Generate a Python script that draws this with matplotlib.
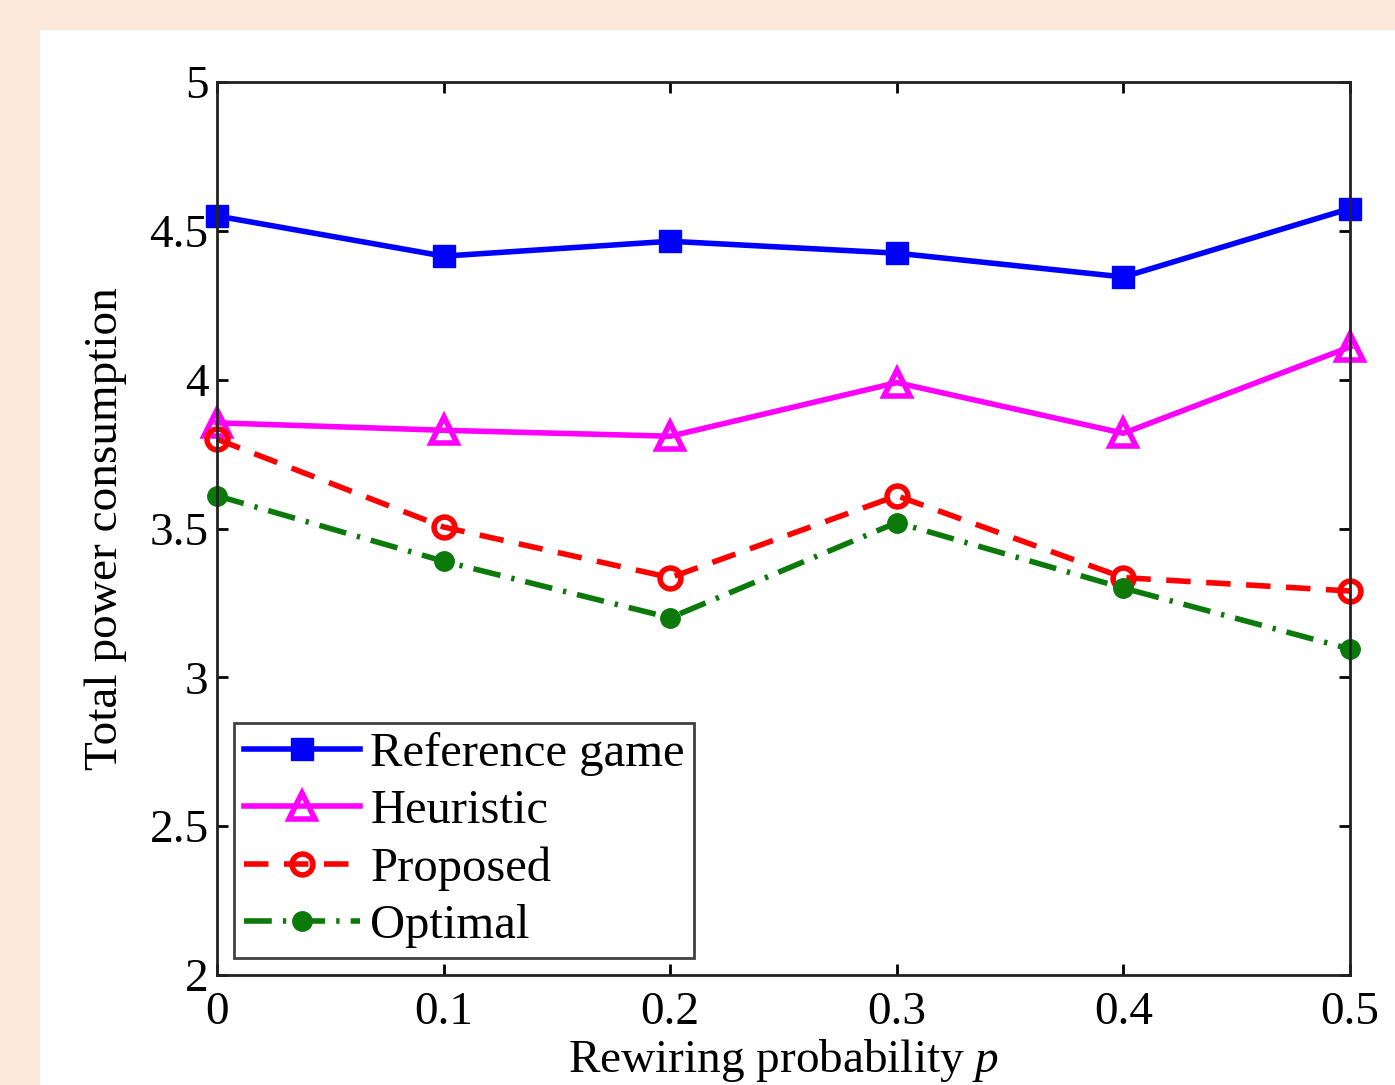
import matplotlib.pyplot as plt
from matplotlib.patches import Rectangle

# data
p = [0, 0.1, 0.2, 0.3, 0.4, 0.5]
reference_game = [4.55, 4.415, 4.465, 4.425, 4.345, 4.575]
heuristic = [3.855, 3.83, 3.81, 3.99, 3.82, 4.11]
proposed = [3.80, 3.505, 3.335, 3.61, 3.335, 3.29]
optimal = [3.61, 3.39, 3.20, 3.52, 3.30, 3.095]

plt.rcParams['font.family'] = ['Liberation Serif', 'DejaVu Serif']
plt.rcParams['mathtext.fontset'] = 'custom'
plt.rcParams['mathtext.it'] = 'Liberation Serif:italic'

fs = 34

fig = plt.figure(figsize=(13.95, 10.85), dpi=100)
fig.patch.set_facecolor('#fce9dc')
# white panel behind the plot
fig.patches.append(Rectangle((40 / 1395, 0), 1, 1 - 30 / 1085, transform=fig.transFigure,
                             facecolor='white', edgecolor='none', zorder=-10))

ax = fig.add_axes([217 / 1395, 110 / 1085, 1133 / 1395, 893 / 1085])
ax.set_zorder(1)

ax.plot(p, reference_game, color='#0000ff', lw=4, marker='s', ms=16,
        mfc='#0000ff', mec='#0000ff', label='Reference game', clip_on=False)
ax.plot(p, heuristic, color='#ff00ff', lw=4, marker='^', ms=19,
        mfc='none', mec='#ff00ff', mew=4, label='Heuristic', clip_on=False)
ax.plot(p, proposed, color='#ff0000', lw=4, ls=(0, (4.4, 2.8)), marker='o', ms=15,
        mfc='none', mec='#ff0000', mew=4, label='Proposed', clip_on=False)
ax.plot(p, optimal, color='#0b7a0b', lw=4, ls=(0, (5, 2, 0.6, 2)), marker='o', ms=14,
        mfc='#0b7a0b', mec='#0b7a0b', label='Optimal', clip_on=False)

ax.set_xlim(0, 0.5)
ax.set_ylim(2, 5)
ax.set_xticks(p)
ax.set_xticklabels(['0', '0.1', '0.2', '0.3', '0.4', '0.5'])
ax.set_yticks([2, 2.5, 3, 3.5, 4, 4.5, 5])
ax.set_yticklabels(['2', '2.5', '3', '3.5', '4', '4.5', '5'])
ax.tick_params(direction='in', length=8, width=2, labelsize=fs, top=True, right=True)
ax.tick_params(axis='x', pad=12)
ax.tick_params(axis='y', pad=6)
for s in ax.spines.values():
    s.set_linewidth(2)
    s.set_color('#222222')

ax.set_xlabel('Rewiring probability $p$', fontsize=fs, labelpad=2)
ax.set_ylabel('Total power consumption', fontsize=fs, labelpad=16)

leg = ax.legend(loc='lower left', fontsize=35, frameon=True, fancybox=False,
                edgecolor='#111111', handlelength=2.4, handletextpad=0.2,
                borderpad=0.2, labelspacing=0.27, borderaxespad=0.35)
leg.get_frame().set_linewidth(2)

fig.savefig('out.png', dpi=100, facecolor=fig.get_facecolor())
